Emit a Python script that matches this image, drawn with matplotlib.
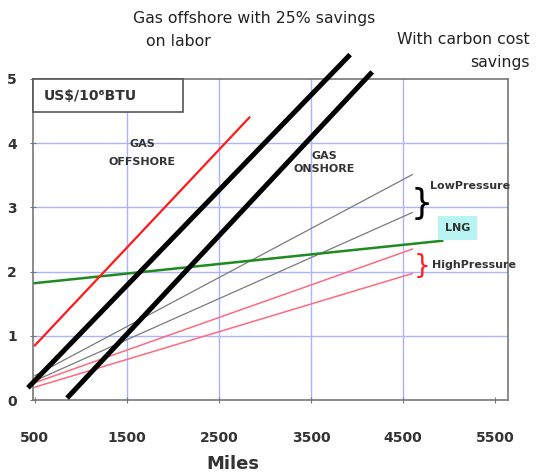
import matplotlib
matplotlib.use("Agg")
import matplotlib.pyplot as plt
from matplotlib.patches import Rectangle

# cost lines: (miles, US$/MMBTU) at both ends
offshore_miles = [500, 2830]
offshore_cost = [0.85, 4.40]
offshore_labor_miles = [425, 3925]
offshore_labor_cost = [0.19, 5.38]
onshore_carbon_miles = [850, 4165]
onshore_carbon_cost = [0.03, 5.11]
lowp_miles = [500, 4600]
lowp_upper_cost = [0.38, 3.51]
lowp_lower_cost = [0.30, 2.92]
highp_miles = [500, 4600]
highp_upper_cost = [0.27, 2.35]
highp_lower_cost = [0.20, 1.97]
lng_miles = [500, 4925]
lng_cost = [1.82, 2.48]

x_ticks = [500, 1500, 2500, 3500, 4500, 5500]
y_ticks = [0, 1, 2, 3, 4, 5]

W, H = 536, 476
fig = plt.figure(figsize=(W / 100, H / 100), dpi=100)
ax = fig.add_axes([33 / W, 1 - 400 / H, (508 - 33) / W, (400 - 79) / H])

ax.set_xlim(480, 5640)
ax.set_ylim(0, 5)

grid_c = "#a9b6ff"
for x in x_ticks[1:-1]:
    ax.axvline(x, color=grid_c, lw=1.0, zorder=1)
for y in y_ticks[1:-1]:
    ax.axhline(y, color=grid_c, lw=1.0, zorder=1)

ax.plot(lowp_miles, lowp_upper_cost, color="#7a7a7a", lw=0.9, zorder=2)
ax.plot(lowp_miles, lowp_lower_cost, color="#7a7a7a", lw=0.9, zorder=2)
ax.plot(highp_miles, highp_upper_cost, color="#ff6b7d", lw=1.1, zorder=2)
ax.plot(highp_miles, highp_lower_cost, color="#ff6b7d", lw=1.1, zorder=2)
ax.plot(lng_miles, lng_cost, color="#1f8a1f", lw=1.8, zorder=3)
ax.plot(offshore_miles, offshore_cost, color="#ff1a1a", lw=1.6, zorder=3)
ax.plot(offshore_labor_miles, offshore_labor_cost, color="black", lw=3.6,
        solid_capstyle="butt", clip_on=False, zorder=4)
ax.plot(onshore_carbon_miles, onshore_carbon_cost, color="black", lw=3.6,
        solid_capstyle="butt", clip_on=False, zorder=4)

for s in ["top", "right", "left", "bottom"]:
    ax.spines[s].set_color("#777777")
    ax.spines[s].set_linewidth(1.2)

ax.set_xticks(x_ticks)
ax.set_yticks(y_ticks)
ax.tick_params(axis="x", direction="inout", length=5, color="#777777", pad=20)
ax.tick_params(axis="y", direction="inout", length=5, color="#777777", pad=9)
for lab in ax.get_xticklabels() + ax.get_yticklabels():
    lab.set_fontweight("bold")
    lab.set_fontsize(10)
    lab.set_color("#333333")

bold = dict(fontweight="bold", color="#333333")
ax.text(1663, 3.84, "GAS\nOFFSHORE", ha="center", va="center", fontsize=8,
        linespacing=2.0, **bold)
ax.text(3641, 3.70, "GAS\nONSHORE", ha="center", va="center", fontsize=8,
        linespacing=1.3, **bold)
ax.text(4790, 3.33, "LowPressure", ha="left", va="center", fontsize=8, **bold)
ax.text(4810, 2.11, "HighPressure", ha="left", va="center", fontsize=8, **bold)
ax.text(5090, 2.68, "LNG", ha="center", va="center", fontsize=8, zorder=5,
        bbox=dict(boxstyle="square,pad=0.6", fc="#b8f4f2", ec="none"), **bold)
ax.text(4700, 3.05, "}", ha="center", va="center", fontsize=25,
        color="black", clip_on=False)
ax.text(4710, 2.08, "}", ha="center", va="center", fontsize=19,
        color="#ff2020", clip_on=False)

# unit box in the top-left corner
fig.patches.append(Rectangle((33 / W, 1 - 112 / H), 150 / W, 33 / H,
                             transform=fig.transFigure, fc="white",
                             ec="#555555", lw=1.2, zorder=10))
fig.text(44 / W, 1 - 96 / H, "US$/10⁶BTU", ha="left", va="center",
         fontsize=10, fontweight="bold", color="#333333", zorder=11)

fig.text(133 / W, 1 - 18 / H, "Gas offshore with 25% savings", ha="left",
         va="center", fontsize=11.3, color="#222222")
fig.text(146 / W, 1 - 42 / H, "on labor", ha="left", va="center",
         fontsize=11.3, color="#222222")
fig.text(530 / W, 1 - 40 / H, "With carbon cost", ha="right", va="center",
         fontsize=11.3, color="#222222")
fig.text(530 / W, 1 - 62 / H, "savings", ha="right", va="center",
         fontsize=11.3, color="#222222")
fig.text(233 / W, 1 - 464 / H, "Miles", ha="center", va="center",
         fontsize=13, fontweight="bold", color="#333333")

fig.savefig("out.png", dpi=100)
